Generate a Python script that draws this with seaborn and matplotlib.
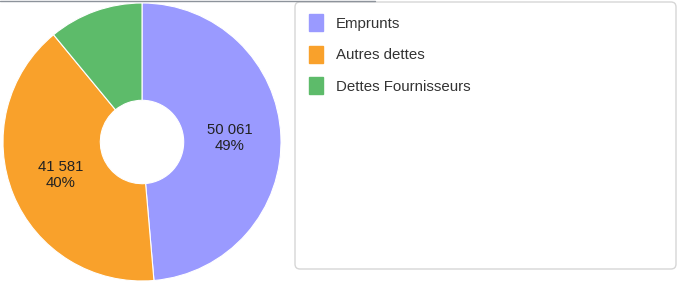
import matplotlib
matplotlib.use("Agg")
import matplotlib.pyplot as plt
import seaborn as sns
from matplotlib.patches import Patch, FancyBboxPatch
from matplotlib.lines import Line2D
from matplotlib.transforms import IdentityTransform

categories = ["Emprunts", "Autres dettes", "Dettes Fournisseurs"]
values = [50061, 41581, 11300]
colors = ["#9a9aff", "#f9a12b", "#5dbb6a"]

sns.set_style("white")
plt.rcParams["font.family"] = ["Liberation Sans", "DejaVu Sans"]

W, H = 677, 281
fig = plt.figure(figsize=(W / 100, H / 100), dpi=100)
fig.patch.set_facecolor("white")

ax = fig.add_axes([3 / W, 0 / H, 278 / W, 278 / H])
total = sum(values)


def fmt(pct):
    v = pct * total / 100.0
    if pct < 20:
        return ""
    return f"{v:,.0f}".replace(",", " ") + f"\n{pct:.0f}%"


wedges, texts, autotexts = ax.pie(
    values,
    colors=colors,
    startangle=90,
    counterclock=False,
    radius=1.0,
    autopct=fmt,
    pctdistance=0.63,
    wedgeprops=dict(width=0.7, edgecolor="white", linewidth=0.8),
    textprops=dict(fontsize=10.7, color="#222222"),
)
for t in autotexts:
    t.set_linespacing(1.15)
    t.set_ha("center")
    t.set_va("center")
ax.set_xlim(-1, 1)
ax.set_ylim(-1, 1)
ax.set_aspect("equal")
ax.axis("off")

# legend frame
box = FancyBboxPatch(
    (295, 12), 381, 267,
    boxstyle="round,pad=0,rounding_size=5",
    transform=IdentityTransform(),
    facecolor="white", edgecolor="#d6d6d6", linewidth=1.0,
)
fig.patches.append(box)
box.set_figure(fig)

handles = [Patch(facecolor=c, edgecolor=c) for c in colors]
leg = fig.legend(
    handles, categories,
    loc="upper left",
    bbox_to_anchor=(309 / W, (H - 14) / H),
    frameon=False,
    fontsize=10.8,
    handlelength=0.93,
    handleheight=1.37,
    handletextpad=0.85,
    labelspacing=0.98,
    borderpad=0,
    borderaxespad=0,
)
for t in leg.get_texts():
    t.set_color("#333333")

# faint top border line
fig.lines.append(Line2D([0, 375], [H - 0.5, H - 0.5], transform=IdentityTransform(),
                        color="#8d939b", linewidth=1.0))

fig.savefig("out.png", dpi=100)
